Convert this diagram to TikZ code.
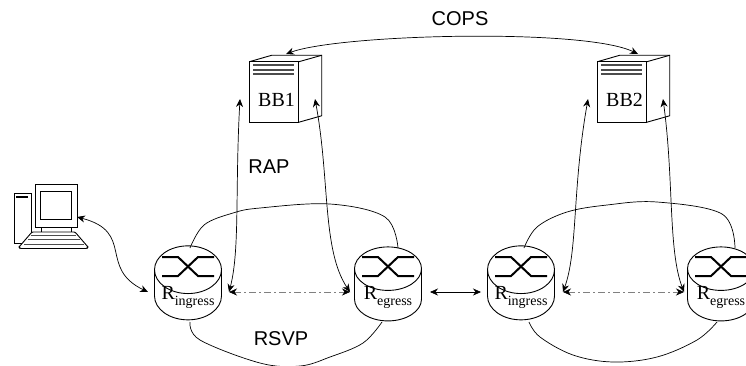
\documentclass[tikz,border=0pt]{standalone}
\usepackage{fontspec}
\setmainfont{Liberation Serif}
\newfontfamily\labelfont{Liberation Sans}
\usetikzlibrary{shapes.geometric}
\usetikzlibrary{positioning, arrows.meta}
\tikzset{
  router/.style={draw, cylinder, shape border rotate=90, aspect=0.9, minimum width=67pt, minimum height=74pt, inner sep=0, outer sep=0, line width=0.9pt, font=\fontsize{20}{20}\selectfont},
  server/.style={draw, minimum width=49.5pt, minimum height=60.5pt, inner sep=0, outer sep=0, line width=0.9pt, font=\fontsize{20}{20}\selectfont},
  tag/.style={font=\labelfont\fontsize{20}{20}\selectfont, inner sep=0},
  link/.style={line width=0.7pt, {Stealth[length=8pt,width=7pt]}-{Stealth[length=8pt,width=7pt]}},
  signal/.style={link, dash pattern=on 7pt off 3pt on 2pt off 3pt, draw=black!50, {Stealth[length=8pt,width=7pt,black]}-{Stealth[length=8pt,width=7pt,black]}},
  cloud/.style={line width=0.7pt, smooth, tension=0.6},
  stripe/.style={line width=1.8pt, black!70},
}
\newcommand{\rname}[1]{\raisebox{-4pt}[0pt][0pt]{R\raisebox{-6pt}{\fontsize{14}{14}\selectfont #1}}}
\newcommand{\bname}[1]{\hspace{5pt}\raisebox{-14pt}[0pt][0pt]{#1}}
% cross on top of a router
\newcommand{\rcross}[1]{
  \draw[line width=2pt] ([shift={(-26,-38)}]#1.center) -- ++(16,0) -- ++(20,19) -- ++(16,0);
  \draw[line width=2pt] ([shift={(-26,-19)}]#1.center) -- ++(16,0) -- ++(20,-19) -- ++(16,0);
}
% side and top of a server box
\newcommand{\rbox}[1]{
  \draw[line width=0.9pt] (#1.north west) -- ++(22.5,-6.5) -- ++(50,0) -- ++(0,60.5) -- (#1.south east);
  \draw[line width=0.9pt] (#1.north east) -- ++(23,-6.5);
  \draw[stripe] ([shift={(4,3.5)}]#1.north west) -- ++(41,0);
  \draw[stripe] ([shift={(4,8)}]#1.north west) -- ++(41,0);
  \draw[stripe] ([shift={(4,12.5)}]#1.north west) -- ++(41,0);
}
\begin{document}
\begin{tikzpicture}[x=1pt, y=-1pt]
\useasboundingbox (0,0) rectangle (746,365);
\node[server] (bb1) at (274,92) {\bname{BB1}};
\node[server] (bb2) at (622,92) {\bname{BB2}};
\rbox{bb1}
\rbox{bb2}
\node[router] (r1) at (188,295) {\rname{ingress}};
\node[router] (r2) at (388,295) {\rname{egress}};
\node[router] (r3) at (521,295) {\rname{ingress}};
\node[router] (r4) at (721,295) {\rname{egress}};
\rcross{r1}
\rcross{r2}
\rcross{r3}
\rcross{r4}
\node[tag] (cops) at (460,19) {COPS};
\node[tag] (rap) at (269,167) {RAP};
\node[tag] (rsvp) at (281,339) {RSVP};
% the computer
\node[draw, minimum width=42pt, minimum height=43pt, inner sep=0, outer sep=0, line width=0.9pt] (pc) at (56,205.5) {};
\node[draw, minimum width=31pt, minimum height=28pt, inner sep=0, line width=0.9pt] (screen) at (pc.center) {};
\node[draw, minimum width=17pt, minimum height=50pt, inner sep=0, outer sep=0, line width=0.9pt, anchor=north east] (tower) at (31,193) {};
\draw[line width=1.2pt] ([shift={(2,4)}]tower.north west) -- ++(12,0);
\draw[line width=0.9pt] ([xshift=-15]pc.south) -- ++(0,5) ([xshift=15]pc.south) -- ++(0,5);
\draw[line width=0.9pt, fill=white, rounded corners=1pt] (32,232) -- (75,232) -- (88,247) -- (87,248.5) -- (20,248.5) -- (19,247) -- cycle;
\draw[stripe, line width=1.5pt] (31,235.5) -- (76,235.5);
\draw[stripe, line width=1.5pt] (28,239.5) -- (80,239.5);
\draw[stripe, line width=1.5pt] (24,244.5) -- (84,244.5);
% connector ends
\coordinate (pcend) at (77,217);
\coordinate (r1w) at (148,292);
\coordinate (bb1l) at (240,99);
\coordinate (bb1r) at (315,99);
\coordinate (bb2l) at (588,99);
\coordinate (bb2r) at (663,99);
\coordinate (r1e) at (229,292);
\coordinate (r2w) at (350,292);
\coordinate (r2e) at (430,292);
\coordinate (r3w) at (481,292);
\coordinate (r3e) at (563,292);
\coordinate (r4w) at (684,292);
\coordinate (copsl) at (286,54);
\coordinate (copsr) at (638,54);
\draw[link] (copsl) .. controls (340,34) and (585,28) .. (copsr);
\draw[link] (bb1l) .. controls (235,190) and (240,250) .. (r1e);
\draw[link] (bb1r) .. controls (330,180) and (322,250) .. (r2w);
\draw[link] (bb2l) .. controls (572,190) and (578,250) .. (r3e);
\draw[link] (bb2r) .. controls (674,180) and (668,250) .. (r4w);
\draw[link] (pcend) .. controls (135,232) and (98,268) .. (r1w);
\draw[link] (r2e) -- (r3w);
\draw[signal] (r1e) -- (r2w);
\draw[signal] (r3e) -- (r4w);
% the rings round the routers
\draw[cloud] plot coordinates {(190,248) (204,225) (233,213) (260,208) (330,204) (385,217) (398,248)};
\draw[cloud] plot coordinates {(190,322) (200,340) (260,363) (300,366) (330,357) (363,343) (382,322)};
\draw[cloud] plot coordinates {(524,248) (537,227) (567,212) (607,205) (657,202) (722,214) (735,248)};
\draw[cloud] plot coordinates {(529,322) (540,337) (573,355) (613,362) (657,357) (697,340) (717,322)};
\end{tikzpicture}
\end{document}
